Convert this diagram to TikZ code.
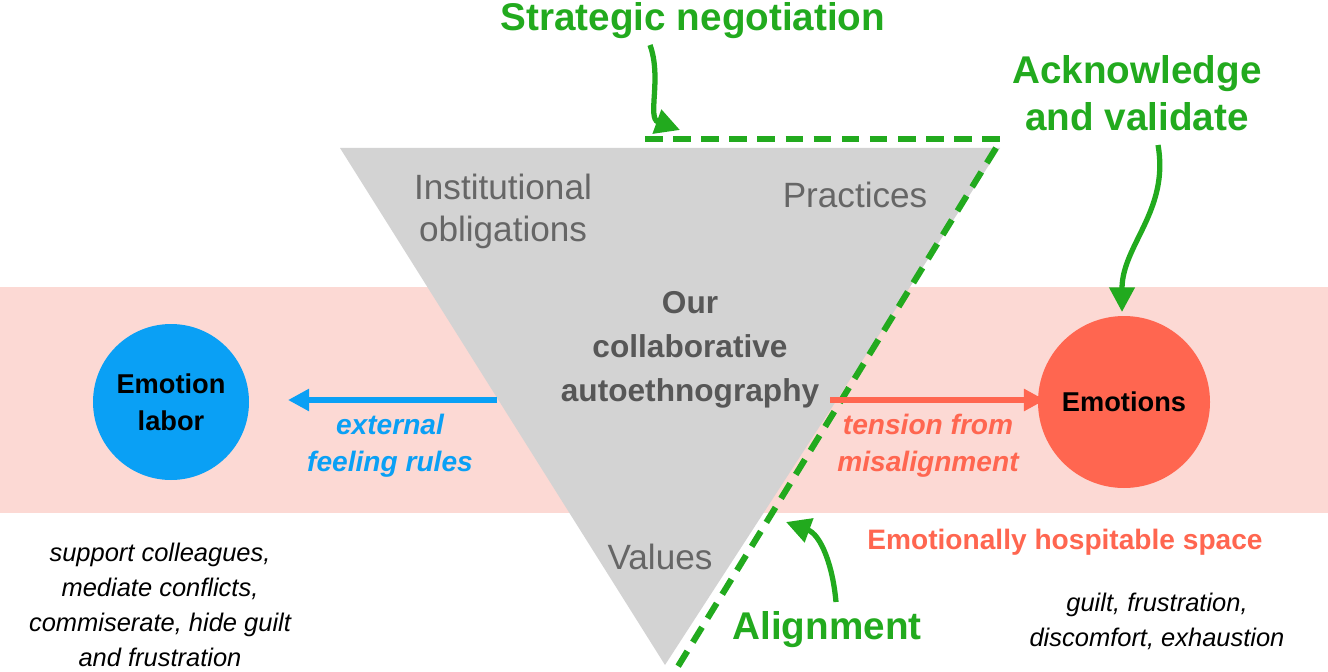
\documentclass[tikz,border=0pt]{standalone}
\usepackage{fontspec}
\setmainfont{Liberation Sans}
\usetikzlibrary{arrows.meta}
\definecolor{pinkband}{HTML}{FCD9D4}
\definecolor{tri}{HTML}{D3D3D3}
\definecolor{grn}{HTML}{22AA1E}
\definecolor{blu}{HTML}{0AA0F5}
\definecolor{rd}{HTML}{FF6650}
\definecolor{gtxt}{HTML}{666666}
\begin{document}
\begin{tikzpicture}[x=0.02cm,y=-0.02cm,
  gt/.style={text=gtxt,font=\fontsize{20}{24}\selectfont,align=center},
  gn/.style={text=grn,font=\fontsize{22}{27}\selectfont\bfseries,align=center},
  it/.style={font=\fontsize{14.5}{20}\selectfont\itshape,align=center},
  ib/.style={font=\fontsize{16}{21}\selectfont\itshape\bfseries,align=center},
  garrow/.style={grn,line width=3pt,-{Triangle[length=14pt,width=14pt]}},
  dsh/.style={grn,line width=3.5pt,dash pattern=on 10pt off 6pt}]
\useasboundingbox (0,0) rectangle (1328,672);
\fill[pinkband] (0,287) rectangle (1328,513);
\fill[tri] (340,148) coordinate (tl) -- (1000,148) coordinate (tr) -- (665,665) coordinate (bt) -- cycle;
\coordinate (d1) at (645,139);
\coordinate (d2) at (1000,139);
\coordinate (d3) at (996,148);
\coordinate (d4) at (677,668);
\draw[dsh] (d1) -- (d2);
\draw[dsh] (d3) -- (d4);
\node[circle,fill=blu,minimum size=156*0.02cm,inner sep=0,font=\fontsize{15.5}{21}\selectfont\bfseries,align=center] (el) at (171,402) {Emotion\\labor};
\node[circle,fill=rd,minimum size=172*0.02cm,inner sep=0,font=\fontsize{15.5}{20}\selectfont\bfseries] (em) at (1124,402) {Emotions};
\coordinate (ba) at (497,400);
\coordinate (bt2) at (288,400);
\coordinate (ra) at (830,400);
\coordinate (rt2) at (1045,400);
\draw[blu,line width=3pt,-{Triangle[length=12pt,width=12pt]}] (ba) -- (bt2);
\draw[rd,line width=3pt,-{Triangle[length=12pt,width=12pt]}] (ra) -- (rt2);
\node[gt] (io) at (503,211) {Institutional\\obligations};
\node[gt] (pr) at (855,195) {Practices};
\node[gt] (va) at (660,557) {Values};
\node[text=gtxt!85!black,font=\fontsize{18}{25}\selectfont\bfseries,align=center] (oc) at (690,350) {Our\\collaborative\\autoethnography};
\node[ib,text=blu] (ef) at (390,446) {external\\feeling rules};
\node[ib,text=rd] (tf) at (928,446) {tension from\\misalignment};
\node[text=rd,font=\fontsize{16}{20}\selectfont\bfseries] (eh) at (1065,542) {Emotionally hospitable space};
\node[it] (gu) at (1157,621) {guilt, frustration,\\discomfort, exhaustion};
\node[it] (sc) at (160,605) {support colleagues,\\mediate conflicts,\\commiserate, hide guilt\\and frustration};
\node[gn] (sn) at (693,21) {Strategic negotiation};
\node[gn] (av) at (1137,93) {Acknowledge\\and validate};
\node[gn] (al) at (827,630) {Alignment};
\coordinate (snt) at (680,130);
\coordinate (avt) at (1122,312);
\coordinate (alt) at (786,522);
\draw[garrow] (650,45) to[out=-70,in=160] (snt);
\draw[garrow] (1158,145) to[out=-80,in=90] (avt);
\draw[garrow] (836,602) to[out=95,in=-20] (alt);
\end{tikzpicture}
\end{document}
